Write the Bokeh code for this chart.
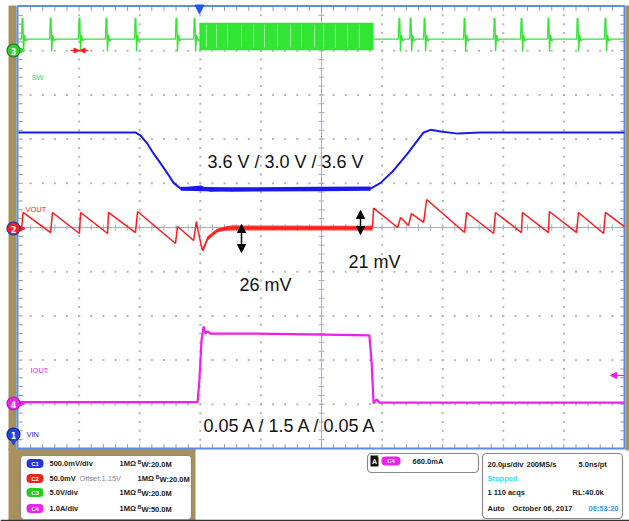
import numpy as np
from bokeh.plotting import figure
from bokeh.models import Range1d, Label, BoxAnnotation, Arrow, NormalHead
from bokeh.embed import file_html
from bokeh.resources import INLINE

# ---------------- scope settings ----------------
us_per_div = 20.0
vin_scale, vin_pos = 0.5, -5.03      # C1  V/div, ground position (div from centre)
vout_scale, vout_pos = 50.0, 0.0     # C2  mV/div around 1.15 V offset
sw_scale, sw_pos = 5.0, 4.0          # C3  V/div
iout_scale, iout_pos = 1.0, -3.98    # C4  A/div

# ---------------- C1 : VIN (V), time in us (screen centre = 0) ----------------
vin_t = [-100, -61.4, -59.7, -57.4, -55.4, -53.1, -50.8, -48.8, -46.5, -43.2, -39.9, -36.6,
         -30.0, 16.2, 19.5, 23.8, 28.4, 31.7, 33.7, 36.0, 39.3, 44.9, 52.5, 100]
vin_v = [3.59, 3.59, 3.555, 3.46, 3.35, 3.24, 3.125, 3.02, 2.955, 2.967, 2.98, 2.93,
         2.944, 2.955, 3.02, 3.16, 3.35, 3.50, 3.59, 3.62, 3.60, 3.577, 3.59, 3.59]
vin_band_t = [-46.5, -30.0, 0.0, 16.2]
vin_band_lo = [2.93, 2.92, 2.925, 2.93]
vin_band_hi = [2.975, 2.97, 2.975, 2.98]

# ---------------- C2 : VOUT (mV around 1.15 V) ----------------
vout_t = [-100, -99.0, -98.5, -89.4, -88.8, -79.9, -79.5, -70.6, -70.3, -61.4, -60.7,
          -48.2, -47.5, -42.2, -41.3, -40.6, -39.3, -37.6, -36.0, -34.3, -31.7, -29.0,
          -26.7, 16.8, 17.2, 25.1, 26.1, 28.7, 29.7, 33.7, 34.7, 47.2, 47.9, 56.8, 57.4,
          66.0, 66.3, 74.9, 75.2, 84.2, 84.8, 93.1, 93.7, 100]
vout_mv = [-1.5, -2.3, 17.0, -5.7, 17.0, -6.8, 17.0, -6.8, 17.0, -5.7, 18.1,
           -18.1, 1.1, -14.7, 6.8, -5.7, -26.0, -12.4, -7.9, -3.4, -1.1, 0.0,
           -0.5, -0.5, 22.0, 0.0, 11.3, 2.3, 15.8, 5.7, 31.7, -5.7, 17.0, -6.8, 17.0,
           -5.7, 17.0, -5.7, 18.1, -5.7, 17.0, -6.8, 17.0, 1.1]
vout_band_t = [-39.0, -37.6, -36.0, -34.3, -31.7, -29.0, -26.7, 16.8]
vout_band_lo = [-28.0, -15.0, -10.0, -5.5, -3.8, -3.3, -3.3, -3.5]
vout_band_hi = [-23.0, -10.0, -5.5, -1.0, 1.5, 2.5, 2.3, 2.0]

# ---------------- C3 : SW (V) ----------------
sw_idle_v = 1.3
sw_spike_t_before = [-98.7, -89.4, -79.9, -71.0, -61.4, -47.9, -41.9]
sw_spike_t_after = [25.7, 29.4, 34.0, 47.2, 57.1, 66.0, 74.9, 84.5, 93.7]
sw_spike_dt = [-0.3, -0.1, 0.15, 0.35, 0.7, 1.1, 1.6]
sw_spike_v = [1.3, 3.7, 3.6, -0.1, 1.8, 1.1, 1.3]
sw_burst_t = [-40.3, 17.2]
sw_burst_lo = [0.05, 0.05]
sw_burst_hi = [3.15, 3.15]
# lighter streaks visible inside the burst
sw_burst_streak_t = [-38.0, -34.6, -31.0, -26.4, -22.4, -18.8, -14.5, -10.2, -6.6, -2.3, 0.7,
                     4.6, 8.6, 12.5]

# ---------------- C4 : IOUT (A) ----------------
iout_t = [-100, -40.9, -40.3, -39.6, -38.9, -38.3, -37.6, -36.6, -23.4, -3.6, 15.8, 16.5,
          17.2, 18.2, 19.1, 100]
iout_a = [0.03, 0.03, 0.52, 1.43, 1.74, 1.58, 1.63, 1.58, 1.58, 1.56, 1.54, 0.97,
          0.0, 0.09, 0.02, 0.02]

# ---------------- texts ----------------
note_vin = "3.6 V / 3.0 V / 3.6 V"
note_under = "26 mV"
note_over = "21 mV"
note_iout = "0.05 A / 1.5 A / 0.05 A"
ch_rows = [("C1", "500.0mV/div", "", "1MΩ", "20.0M"),
           ("C2", "50.0mV", "Offset:1.15V", "1MΩ", "20.0M"),
           ("C3", "5.0V/div", "", "1MΩ", "20.0M"),
           ("C4", "1.0A/div", "", "1MΩ", "50.0M")]
trig_text = "660.0mA"
acq_text = [("20.0µs/div", "200MS/s", "5.0ns/pt"), ("Stopped",), ("1 110 acqs", "RL:40.0k"),
            ("Auto", "October 06, 2017", "06:53:20")]

# ---------------- colours ----------------
C_GREEN, C_BLUE, C_RED, C_MAG = "#33e533", "#1a1aee", "#ff1a1a", "#f01df0"
C_TAN, C_FRAME = "#a8905c", "#5b8de6"

# ---------------- geometry helpers (reference pixel -> data) ----------------
PXUS = 60.6 / us_per_div
PXDIV = 44.2
def X(px): return (px - 321.0) / PXUS
def Y(py): return (227.0 - py) / PXDIV
def div(vals, scale, pos): return [pos + v / scale for v in vals]

p = figure(width=629, height=521, x_range=Range1d(X(0), X(629)), y_range=Range1d(Y(521), Y(0)),
           output_backend="svg", toolbar_location=None, x_axis_location=None, y_axis_location=None,
           min_border=0, background_fill_color="white", border_fill_color="white")
p.grid.visible = False
p.outline_line_color = None

# side bars and tan area behind channel panel
p.quad(left=[X(8), X(625), X(8)], right=[X(16), X(629), X(195)], top=[Y(5), Y(5), Y(448)],
       bottom=[Y(450), Y(450), Y(521)], fill_color=C_TAN, line_color=None)

# dotted grid
gx, gy = [], []
for xm in [-80, -60, -40, -20, 20, 40, 60, 80]:
    for yy in np.arange(-4.8, 4.81, 0.2):
        gx.append(xm); gy.append(yy)
for ym in [-4, -3, -2, -1, 1, 2, 3, 4]:
    for xx in np.arange(-96, 96.1, 4):
        gx.append(xx); gy.append(ym)
p.scatter(gx, gy, marker="square", size=2, fill_color="#b5b5b5", line_color=None)

# centre cross + ticks
p.segment(x0=[-100, 0], y0=[0, -5], x1=[100, 0], y1=[0, 5], line_color="#a3adc4", line_width=1)
tx = np.arange(-96, 96.1, 4)
ty = np.arange(-4.8, 4.81, 0.2)
p.segment(x0=tx, y0=[-0.07] * len(tx), x1=tx, y1=[0.07] * len(tx), line_color="#a3adc4")
p.segment(x0=[-1.0] * len(ty), y0=ty, x1=[1.0] * len(ty), y1=ty, line_color="#a3adc4")
# border ticks
p.segment(x0=tx, y0=[5] * len(tx), x1=tx, y1=[4.9] * len(tx), line_color="#9a9a9a")
p.segment(x0=tx, y0=[-5] * len(tx), x1=tx, y1=[-4.9] * len(tx), line_color="#9a9a9a")
p.segment(x0=[-100] * len(ty), y0=ty, x1=[-98.6] * len(ty), y1=ty, line_color="#9a9a9a")
p.segment(x0=[100] * len(ty), y0=ty, x1=[98.6] * len(ty), y1=ty, line_color="#9a9a9a")
# frame
p.line([X(17), X(624), X(624), X(17), X(17)], [Y(5.5), Y(5.5), Y(448), Y(448), Y(5.5)],
       line_color=C_FRAME, line_width=2)

# ---------------- traces ----------------
# SW
def sw_segment(t_from, t_to, spikes):
    ts, vs = [t_from], [sw_idle_v]
    for t0 in spikes:
        for dt, v in zip(sw_spike_dt, sw_spike_v):
            ts.append(t0 + dt); vs.append(v)
    ts.append(t_to); vs.append(sw_idle_v)
    return ts, div(vs, sw_scale, sw_pos)
a_t, a_v = sw_segment(-100, sw_burst_t[0], sw_spike_t_before)
b_t, b_v = sw_segment(sw_burst_t[1], 100, sw_spike_t_after)
p.varea(x=sw_burst_t, y1=div(sw_burst_lo, sw_scale, sw_pos), y2=div(sw_burst_hi, sw_scale, sw_pos),
        fill_color=C_GREEN)
n_st = len(sw_burst_streak_t)
p.segment(x0=sw_burst_streak_t, x1=sw_burst_streak_t,
          y0=div([sw_burst_lo[0] + 0.3] * n_st, sw_scale, sw_pos),
          y1=div([sw_burst_hi[0] - 0.2] * n_st, sw_scale, sw_pos),
          line_color="#a6f2a6", line_width=1)
p.line(a_t, a_v, line_color=C_GREEN, line_width=1.3)
p.line(b_t, b_v, line_color=C_GREEN, line_width=1.3)

# VIN
p.varea(x=vin_band_t, y1=div(vin_band_lo, vin_scale, vin_pos), y2=div(vin_band_hi, vin_scale, vin_pos),
        fill_color=C_BLUE)
p.line(vin_t, div(vin_v, vin_scale, vin_pos), line_color=C_BLUE, line_width=2)

# VOUT
p.varea(x=vout_band_t, y1=div(vout_band_lo, vout_scale, vout_pos), y2=div(vout_band_hi, vout_scale, vout_pos),
        fill_color=C_RED, fill_alpha=0.85)
p.line(vout_t, div(vout_mv, vout_scale, vout_pos), line_color=C_RED, line_width=1.5)

# IOUT
p.line(iout_t, div(iout_a, iout_scale, iout_pos), line_color=C_MAG, line_width=2.2)

# ---------------- markers ----------------
def tri(px, py, direction, s, color):
    h = s / 2.0
    if direction == "right":
        pts = [(px - h, py - h), (px - h, py + h), (px + h, py)]
    elif direction == "left":
        pts = [(px + h, py - h), (px + h, py + h), (px - h, py)]
    else:  # down
        pts = [(px - h, py - h), (px + h, py - h), (px, py + h)]
    p.patch([X(a) for a, b in pts], [Y(b) for a, b in pts], fill_color=color, line_color=color)

def txt(px, py, s, size=7.5, color="#222222", bold=True, align="left", font="Liberation Sans", angle=0.0):
    p.add_layout(Label(x=X(px), y=Y(py), text=s, text_font=font, text_font_size=f"{size}px",
                       text_color=color, text_font_style="bold" if bold else "normal",
                       text_align=align, text_baseline="middle", angle=angle))

# trigger position marker
tri(199, 9, "down", 9, "#2255ee")
# small red marker on top trace row
p.line([X(70), X(88)], [Y(50), Y(50)], line_color=C_RED, line_width=1)
tri(76, 50, "right", 5, C_RED)
tri(82, 50, "left", 5, C_RED)
# magenta trigger level arrow on the right
p.line([X(612), X(624)], [Y(375), Y(375)], line_color=C_MAG, line_width=1.2)
tri(613, 375, "left", 6, C_MAG)

# channel ground markers
for (py, fill, edge, num, col) in [(50, "#33cc33", "#1d7a1d", "3", C_GREEN),
                                   (228, "#ee2222", "#2233aa", "2", C_RED),
                                   (403, "#ee22ee", "#993399", "4", C_MAG),
                                   (434, "#2244dd", "#112288", "1", C_BLUE)]:
    if num != "1":
        tri(22, py, "right", 5, col)
    p.scatter([X(13)], [Y(py)], size=13, fill_color=fill, line_color=edge, line_width=1.2)
    txt(13, py + 0.5, num, size=8, color="white", align="center", font="DejaVu Sans")
tri(13, 442, "down", 5, "#2244dd")

# channel names
txt(31, 77, "SW", 7.5, C_GREEN, bold=False)
txt(25, 209, "VOUT", 7.5, C_RED, bold=False)
txt(30, 370, "IOUT", 7.5, C_MAG, bold=False)
txt(26, 434, "VIN", 7.5, C_BLUE, bold=False)

# annotations
txt(285, 161, note_vin, 18, "#111111", bold=False, align="center")
txt(265, 284, note_under, 18, "#111111", bold=False, align="center")
txt(374, 261, note_over, 18, "#111111", bold=False, align="center")
txt(291, 425, note_iout, 18, "#111111", bold=False, align="center")
head = dict(size=8, fill_color="black", line_color="black")
p.add_layout(Arrow(x_start=X(241), y_start=Y(224), x_end=X(241), y_end=Y(252), line_width=1.5,
                   start=NormalHead(**head), end=NormalHead(**head)))
p.add_layout(Arrow(x_start=X(360), y_start=Y(210), x_end=X(360), y_end=Y(234), line_width=1.5,
                   start=NormalHead(**head), end=NormalHead(**head)))

# ---------------- info panel ----------------
def box(px0, py0, px1, py1, fill, line=None, radius=0, lw=1.0):
    p.add_layout(BoxAnnotation(left=X(px0), right=X(px1), top=Y(py0), bottom=Y(py1),
                               fill_color=fill, fill_alpha=1.0,
                               line_color=line if line else "white", line_alpha=1.0 if line else 0.0,
                               line_width=lw, border_radius=int(radius)))

p.line([X(0), X(629)], [Y(520), Y(520)], line_color="#333333", line_width=1.5)
box(20, 455, 191, 519, "white", "#8a8a8a", 4, 1.2)
box(367, 453, 478, 472, "white", "#8a8a8a", 4, 1.2)
box(482, 453, 622, 518, "white", "#8a8a8a", 4, 1.2)

pill_cols = {"C1": "#2233dd", "C2": "#ee2222", "C3": "#22cc22", "C4": "#ee22ee"}
row_y = [463, 478, 492, 508]
for (ch, scale_txt, extra, imp, bw), ry in zip(ch_rows, row_y):
    box(26, ry - 4.5, 43, ry + 4.5, pill_cols[ch], None, 4)
    txt(34.5, ry, ch, 6, "white", align="center")
    txt(49, ry, scale_txt, 7.5)
    shift = 0
    if extra:
        txt(79, ry, extra, 7.5, "#8a8a8a", bold=False)
        shift = 18
    txt(119 + shift, ry, imp, 7.5)
    txt(137 + shift, ry - 2, "B", 5.5)
    txt(141 + shift, ry + 0.5, "W:" + bw, 7.5)

# trigger box
box(370, 455, 378, 466, "#111111", None, 0)
txt(374, 460.5, "A", 7, "white", align="center")
txt(377, 457, "'", 6, "white")
box(381, 456, 400, 465, pill_cols["C4"], None, 4)
txt(390.5, 460.5, "C4", 6, "white", align="center")
p.line([X(403), X(405.5), X(407.5), X(410)], [Y(467), Y(466), Y(458), Y(457)], line_color="#111111", line_width=1.5)
txt(412, 461, trig_text, 7.5)

# acquisition box
txt(487, 464, acq_text[0][0], 7.5)
txt(526, 464, acq_text[0][1], 7.5)
txt(578, 464, acq_text[0][2], 7.5)
txt(487, 478, acq_text[1][0], 7.5, "#33dcff")
txt(487, 492, acq_text[2][0], 7.5)
txt(572, 492, acq_text[2][1], 7.5)
txt(487, 508, acq_text[3][0], 7.5)
txt(512, 508, acq_text[3][1], 7.5)
txt(588, 508, acq_text[3][2], 7.5, "#3399ff")
p.line([X(611), X(611)], [Y(472), Y(481)], line_color="#1133cc", line_width=2)
tri(611, 482, "down", 6, "#1133cc")

open("out.html", "w").write(file_html(p, INLINE))
